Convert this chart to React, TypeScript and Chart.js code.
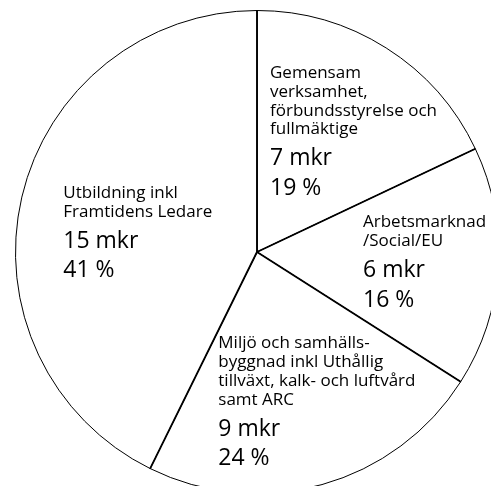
import React, { useEffect, useRef } from "react";
import { Chart, registerables } from "chart.js";

Chart.register(...registerables);

// Slice order: clockwise from 12 o'clock
const categories: string[][] = [
  ["Gemensam", "verksamhet,", "förbundsstyrelse och", "fullmäktige"],
  ["Arbetsmarknad", "/Social/EU"],
  ["Miljö och samhälls-", "byggnad inkl Uthållig", "tillväxt, kalk- och luftvård", "samt ARC"],
  ["Utbildning inkl", "Framtidens Ledare"],
];
// slice sizes as drawn (mkr)
const values: number[] = [6.65, 5.94, 8.61, 15.8];
const amountLabels: string[] = ["7 mkr", "6 mkr", "9 mkr", "15 mkr"];
const percentLabels: string[] = ["19 %", "16 %", "24 %", "41 %"];

// text anchors relative to the pie centre (left edge, first baseline)
const labelOffsets: [number, number][] = [
  [13, -174],
  [106, -24.7],
  [-38.7, 96.3],
  [-193.7, -54.3],
];

const FONT = '"Open Sans", "Noto Sans", sans-serif';

const labelPlugin = {
  id: "sliceLabels",
  afterDatasetsDraw(chart: any) {
    const ctx: CanvasRenderingContext2D = chart.ctx;
    const meta = chart.getDatasetMeta(0);
    const arcs = meta.data;
    if (!arcs.length) return;
    const cx = arcs[0].x;
    const cy = arcs[0].y;
    const r = arcs[0].outerRadius;
    ctx.save();
    // spokes, slightly heavier than the rim
    ctx.strokeStyle = "#000";
    ctx.lineWidth = 1.8;
    ctx.lineCap = "butt";
    arcs.forEach((a: any) => {
      ctx.beginPath();
      ctx.moveTo(cx, cy);
      ctx.lineTo(cx + r * Math.cos(a.startAngle), cy + r * Math.sin(a.startAngle));
      ctx.stroke();
    });
    ctx.fillStyle = "#000";
    ctx.textAlign = "left";
    ctx.textBaseline = "alphabetic";
    categories.forEach((lines, i) => {
      const [dx, dy] = labelOffsets[i];
      const x = cx + dx;
      let y = cy + dy;
      ctx.font = `17px ${FONT}`;
      lines.forEach((ln, j) => {
        if (j > 0) y += 18.8;
        ctx.fillText(ln, x, y);
      });
      ctx.font = `23px ${FONT}`;
      y += 31;
      ctx.fillText(amountLabels[i], x, y);
      y += 29.5;
      ctx.fillText(percentLabels[i], x, y);
    });
    ctx.restore();
  },
};

export default function App() {
  const ref = useRef<HTMLCanvasElement | null>(null);
  useEffect(() => {
    if (!ref.current) return;
    const chart = new Chart(ref.current, {
      type: "pie",
      data: {
        labels: categories.map((c) => c.join(" ")),
        datasets: [
          {
            data: values,
            backgroundColor: "#ffffff",
            borderColor: "#000000",
            borderWidth: 1,
          },
        ],
      },
      options: {
        animation: false,
        responsive: false,
        maintainAspectRatio: false,
        devicePixelRatio: 1,
        layout: { padding: 0 },
        plugins: {
          legend: { display: false },
          tooltip: { enabled: false },
        },
      },
      plugins: [labelPlugin],
    });
    return () => chart.destroy();
  }, []);
  return (
    <div
      style={{
        position: "fixed",
        left: 0,
        top: 0,
        width: 491,
        height: 486,
        overflow: "hidden",
        background: "#fff",
      }}
    >
      <canvas
        ref={ref}
        width={484}
        height={484}
        style={{ position: "absolute", left: 15, top: 10, width: 484, height: 484 }}
      />
    </div>
  );
}
